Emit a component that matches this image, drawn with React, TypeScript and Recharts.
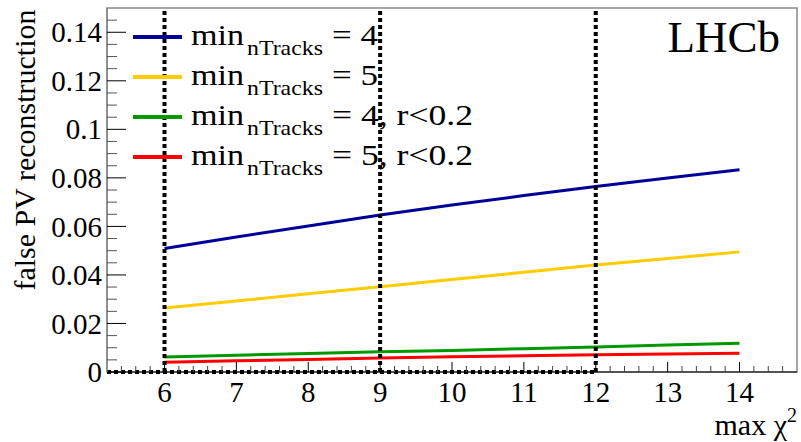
import React from 'react';
import { LineChart, Line, XAxis, YAxis, ReferenceLine, ReferenceArea, Legend, Label } from 'recharts';

// chi2 cut values (x) and fake PV rates for each selection
const chiValues = [6, 7, 8, 9, 10, 11, 12, 13, 14];
const minTracks4 = [0.0509, 0.0556, 0.0602, 0.0647, 0.0688, 0.0727, 0.0764, 0.0799, 0.0833];
const minTracks5 = [0.0264, 0.0293, 0.0322, 0.0351, 0.0381, 0.0411, 0.0441, 0.0468, 0.0495];
const minTracks4r = [0.0062, 0.0069, 0.0076, 0.0083, 0.0089, 0.0096, 0.0103, 0.0111, 0.0118];
const minTracks5r = [0.004, 0.0046, 0.0052, 0.0058, 0.0063, 0.0067, 0.0071, 0.0074, 0.0077];

const legendTails = ['= 4', '= 5', '= 4, r<0.2', '= 5, r<0.2'];
const cutLines = [6, 9, 12];

const xMajorTicks = [6, 7, 8, 9, 10, 11, 12, 13, 14];
const yMajorTicks = [0, 0.02, 0.04, 0.06, 0.08, 0.1, 0.12, 0.14];

const series = [
  { key: 'n4', color: '#000099', values: minTracks4 },
  { key: 'n5', color: '#ffcc00', values: minTracks5 },
  { key: 'n4r', color: '#009900', values: minTracks4r },
  { key: 'n5r', color: '#ff0000', values: minTracks5r },
];

const data = chiValues.map((x, i) => {
  const row: any = { x };
  series.forEach((s) => (row[s.key] = s.values[i]));
  return row;
});

// minor ticks every 0.2 on x and 0.005 on y
const xTicks: number[] = [];
for (let i = 27; i <= 73; i++) xTicks.push(i / 5);
const yTicks: number[] = [];
for (let i = 0; i <= 29; i++) yTicks.push(i / 200);

const FONT = 'Liberation Serif, DejaVu Serif, serif';

const XTick = (props: any) => {
  const { x, y, payload } = props;
  const v = payload.value;
  const major = xMajorTicks.some((t) => Math.abs(t - v) < 1e-6);
  return (
    <g>
      <line x1={x} x2={x} y1={y} y2={y - (major ? 10 : 6)} stroke={major ? '#000' : '#444'} strokeWidth={1} />
      {major && (
        <text x={x} y={y + 30} textAnchor="middle" fontSize={29} fontFamily={FONT} fill="#000">
          {Math.round(v)}
        </text>
      )}
    </g>
  );
};

const YTick = (props: any) => {
  const { x, y, payload } = props;
  const v = payload.value;
  const major = yMajorTicks.some((t) => Math.abs(t - v) < 1e-7);
  return (
    <g>
      <line x1={x} x2={x + (major ? 19 : 10)} y1={y} y2={y} stroke={major ? '#000' : '#555'} strokeWidth={1} />
      {major && (
        <text x={x - 5} y={y} dy="0.35em" textAnchor="end" fontSize={29} fontFamily={FONT} fill="#000">
          {String(Number(v.toFixed(2)))}
        </text>
      )}
    </g>
  );
};

const YTitle = (props: any) => {
  const vb = props.viewBox;
  const cx = vb.x + 35;
  const cy = vb.y + 142;
  return (
    <text x={cx} y={cy} transform={`rotate(-90, ${cx}, ${cy})`} textAnchor="middle" fontSize={30} fontFamily={FONT} fill="#000">
      false PV reconstruction
    </text>
  );
};

const XTitle = (props: any) => {
  const vb = props.viewBox;
  return (
    <text x={vb.x + vb.width} y={vb.y + 63} textAnchor="end" fontSize={30} fontFamily={FONT} fill="#000">
      max χ<tspan fontSize={20} dy={-13}>2</tspan>
    </text>
  );
};

const LhcbLabel = (props: any) => {
  const vb = props.viewBox;
  return (
    <text x={vb.x + vb.width - 17} y={vb.y + 44} textAnchor="end" fontSize={45} fontFamily={FONT} fill="#000">
      LHCb
    </text>
  );
};

const renderLegend = () => (
  <svg width={500} height={185}>
    {series.map((s, i) => {
      const cy = 37 + 40 * i;
      const tail = legendTails[i];
      return (
        <g key={s.key} fontFamily={FONT} fill="#000">
          <line x1={133} x2={182} y1={cy} y2={cy} stroke={s.color} strokeWidth={4} />
          <text x={191} y={cy + 8} fontSize={29} textLength={53} lengthAdjust="spacingAndGlyphs">min</text>
          <text x={247} y={cy + 18} fontSize={21} textLength={76} lengthAdjust="spacingAndGlyphs">nTracks</text>
          <text x={332} y={cy + 8} fontSize={29} textLength={tail.length > 3 ? 141 : 46} lengthAdjust="spacingAndGlyphs">
            {tail}
          </text>
        </g>
      );
    })}
  </svg>
);

export default function App() {
  return (
    <div style={{ position: 'absolute', left: 0, top: 0, background: '#fff' }}>
      <LineChart width={801} height={442} data={data} margin={{ top: 8, right: 4, bottom: 0, left: 0 }}>
        <ReferenceArea x1={5.2} x2={14.8} y1={0} y2={0.15} fill="none" stroke="#888" strokeWidth={1.5}>
          <Label content={LhcbLabel} />
        </ReferenceArea>
        <XAxis
          type="number"
          dataKey="x"
          domain={[5.2, 14.8]}
          ticks={xTicks}
          interval={0}
          height={70}
          tickSize={0}
          tickMargin={0}
          tick={XTick}
          axisLine={{ stroke: '#000', strokeWidth: 1 }}
          allowDataOverflow
          label={XTitle}
        />
        <YAxis
          type="number"
          domain={[0, 0.15]}
          ticks={yTicks}
          interval={0}
          width={107}
          tickSize={0}
          tickMargin={0}
          tick={YTick}
          axisLine={{ stroke: '#888', strokeWidth: 1.5 }}
          allowDataOverflow
          label={YTitle}
        />
        {series.map((s) => (
          <Line
            key={s.key}
            dataKey={s.key}
            type="linear"
            stroke={s.color}
            strokeWidth={3}
            dot={false}
            activeDot={false}
            isAnimationActive={false}
          />
        ))}
        {cutLines.map((c) => (
          <ReferenceLine key={c} x={c} stroke="#000" strokeWidth={4} strokeDasharray="4 3" />
        ))}
        <ReferenceLine
          segment={[{ x: 5.2, y: 0 }, { x: 12, y: 0 }]}
          stroke="#000"
          strokeWidth={4}
          strokeDasharray="4 3"
        />
        <Legend
          layout="vertical"
          align="center"
          verticalAlign="middle"
          content={renderLegend}
          wrapperStyle={{ top: 0, left: 0, width: 500, height: 185 }}
        />
      </LineChart>
    </div>
  );
}
